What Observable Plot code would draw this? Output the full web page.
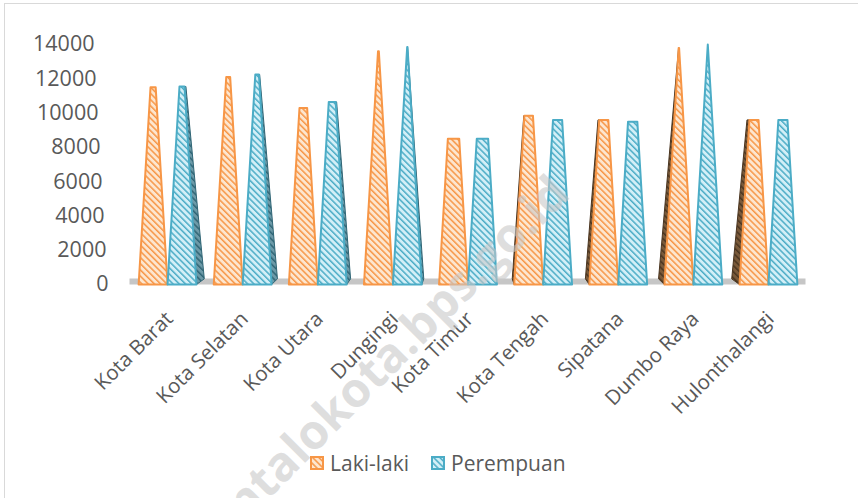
<!DOCTYPE html>
<html>
<head>
<meta charset="utf-8">
<script src="https://cdn.jsdelivr.net/npm/d3@7"></script>
<script src="https://cdn.jsdelivr.net/npm/@observablehq/plot@0.6"></script>
<style>
  html, body { margin: 0; padding: 0; background: #fff; }
  body { width: 858px; height: 498px; overflow: hidden; position: relative; font-family: "Open Sans", sans-serif; }
  #frame { position: absolute; left: 4px; top: 3px; width: 900px; height: 600px; border: 1px solid #d9d9d9; box-sizing: border-box; }
  #chart { position: absolute; left: 0; top: 0; }
  #legend { position: absolute; top: 449px; left: 310px; display: flex; align-items: center; font-size: 21px; color: #595959; }
  #legend .item { display: flex; align-items: center; }
  #legend svg { margin-right: 6px; }
  #wm { position: absolute; left: 0; top: 0; pointer-events: none; }
</style>
</head>
<body>
<div id="frame"></div>
<div id="chart"></div>
<div id="legend"></div>
<svg id="wm" width="858" height="498"></svg>
<script>
// ---- data ----
const categories = ["Kota Barat", "Kota Selatan", "Kota Utara", "Dungingi", "Kota Timur", "Kota Tengah", "Sipatana", "Dumbo Raya", "Hulonthalangi"];
const lakiLaki   = [11500, 12100, 10300, 13600, 8500, 9850, 9600, 13800, 9600];
const perempuan  = [11550, 12250, 10650, 13850, 8500, 9600, 9500, 14000, 9600];
const yTicks = [0, 2000, 4000, 6000, 8000, 10000, 12000, 14000];
const seriesNames = ["Laki-laki", "Perempuan"];

const MAX = 14000;
const W = 0.385;          // bar base width (category units)
const colors = {
  L: {line: "#F79646", bg: "#FDE6CF", side: "#4a3520", sideBg: "#7a5a3a"},
  P: {line: "#4BACC6", bg: "#D3EFF7", side: "#2f6575", sideBg: "#6d9aa8"}
};

// ---- build pyramid polygons from the values ----
function fronts(vals, key, off) {
  const pts = [];
  vals.forEach((v, i) => {
    const cx = i + off, t = Math.max(0, 1 - v / MAX), id = key + i;
    pts.push({id, x: cx - W / 2, y: 0});
    pts.push({id, x: cx - W * t / 2, y: v});
    pts.push({id, x: cx + W * t / 2, y: v});
    pts.push({id, x: cx + W / 2, y: 0});
    pts.push({id, x: cx - W / 2, y: 0});
  });
  return pts;
}
function sides(vals, key, off, which) {
  const pts = [];
  vals.forEach((v, i) => {
    const s = (4 - i) * 0.026;
    if (which === "right" && s <= 0) return;
    if (which === "left" && s >= 0) return;
    const cx = i + off, t = Math.max(0, 1 - v / MAX), id = key + "s" + i;
    const e = which === "right" ? 1 : -1;
    pts.push({id, x: cx + e * W / 2, y: 0});
    pts.push({id, x: cx + e * W / 2 + s, y: 330});
    pts.push({id, x: cx + e * W * t / 2 + s * t, y: v});
    pts.push({id, x: cx + e * W * t / 2, y: v});
  });
  return pts;
}

const frontL = fronts(lakiLaki, "L", -W / 2);
const frontP = fronts(perempuan, "P", W / 2);
const sideP = sides(perempuan, "P", W / 2, "right");
const sideL = sides(lakiLaki, "L", -W / 2, "left");

function defsMark() {
  const d = d3.create("svg:defs");
  function pat(id, bg, fg) {
    const p = d.append("pattern").attr("id", id).attr("patternUnits", "userSpaceOnUse")
      .attr("width", 4.4).attr("height", 4.4).attr("patternTransform", "rotate(-45)");
    p.append("rect").attr("width", 4.4).attr("height", 4.4).attr("fill", bg);
    p.append("rect").attr("width", 1.5).attr("height", 4.4).attr("fill", fg);
  }
  pat("hatchL", colors.L.bg, colors.L.line);
  pat("hatchP", colors.P.bg, colors.P.line);
  pat("hatchLs", colors.L.sideBg, colors.L.side);
  pat("hatchPs", colors.P.sideBg, colors.P.side);
  return d.node();
}

// y label slant (3D axis): right edge moves right toward the bottom
const pxPerUnit = (858 - 129.5 - 52.5) / 9;
const labelX = v => -0.5 + ((94 + 14 * (1 - v / MAX)) - 129.5) / pxPerUnit;

const chart = Plot.plot({
  width: 858,
  height: 440,
  marginLeft: 129.5,
  marginRight: 52.5,
  marginTop: 44,
  marginBottom: 156,
  x: {domain: [-0.5, 8.5], axis: null},
  y: {domain: [0, MAX], axis: null},
  style: {fontFamily: "Open Sans, sans-serif", background: "transparent", overflow: "visible"},
  marks: [
    defsMark,
    Plot.ruleY([0], {stroke: "#c6c6c6", strokeWidth: 6, dy: -3}),
    Plot.line(sideP, {x: "x", y: "y", z: "id", fill: "url(#hatchPs)", stroke: colors.P.side, strokeWidth: 1}),
    Plot.line(sideL, {x: "x", y: "y", z: "id", fill: "url(#hatchLs)", stroke: colors.L.side, strokeWidth: 1}),
    Plot.line(frontL, {x: "x", y: "y", z: "id", fill: "url(#hatchL)", stroke: colors.L.line, strokeWidth: 2, strokeLinejoin: "round"}),
    Plot.line(frontP, {x: "x", y: "y", z: "id", fill: "url(#hatchP)", stroke: colors.P.line, strokeWidth: 2, strokeLinejoin: "round"}),
    Plot.text(yTicks, {x: labelX, y: d => d, text: d => String(d), textAnchor: "end", fontSize: 21.5, fill: "#595959"}),
    Plot.axisX(d3.range(categories.length), {
      tickFormat: i => categories[i], tickRotate: -45, tickSize: 0, tickPadding: 31, dx: 2,
      fontSize: 20.5, color: "#595959", textStroke: "none", label: null
    })
  ]
});
document.getElementById("chart").appendChild(chart);

// ---- legend ----
const legend = d3.select("#legend");
[["L", seriesNames[0]], ["P", seriesNames[1]]].forEach(([k, name], j) => {
  const it = legend.append("div").attr("class", "item").style("margin-right", j === 0 ? "22px" : "0");
  const s = it.append("svg").attr("width", 14).attr("height", 14);
  s.append("rect").attr("x", 1).attr("y", 1).attr("width", 12).attr("height", 12)
    .attr("fill", `url(#hatch${k})`).attr("stroke", colors[k].line).attr("stroke-width", 2);
  it.append("span").text(name);
});

// ---- watermark ----
d3.select("#wm").append("text")
  .attr("transform", "translate(572,196) rotate(-45)")
  .attr("text-anchor", "end")
  .attr("font-family", "Open Sans, sans-serif")
  .attr("font-weight", "bold")
  .attr("font-size", 48)
  .attr("fill", "#c8c8c8")
  .attr("fill-opacity", 0.6)
  .text("gorontalokota.bps.go.id");
</script>
</body>
</html>
